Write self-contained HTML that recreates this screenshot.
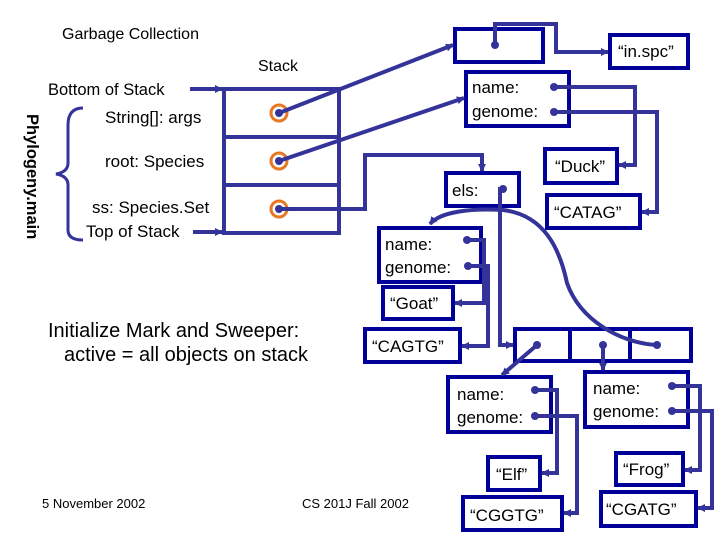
<!DOCTYPE html>
<html><head><meta charset="utf-8"><style>
html,body{margin:0;padding:0;background:#fff;}
svg{display:block;font-family:"Liberation Sans",sans-serif;}
</style></head><body>
<svg width="720" height="540" viewBox="0 0 720 540" xmlns="http://www.w3.org/2000/svg">
<defs>
<marker id="a" markerWidth="8" markerHeight="8" refX="7" refY="4" orient="auto" markerUnits="userSpaceOnUse">
<path d="M0,0 L8,4 L0,8 z" fill="#333399"/></marker>
</defs>
<g font-size="17" fill="#000">
<text x="62" y="39" font-size="16">Garbage Collection</text>
<text x="258" y="71" font-size="16">Stack</text>
<text x="48" y="95" font-size="16.5">Bottom of Stack</text>
<text x="105" y="123">String[]: args</text>
<text x="105" y="167">root: Species</text>
<text x="92" y="213">ss: Species.Set</text>
<text x="86" y="237">Top of Stack</text>
<text x="48" y="337" font-size="20">Initialize Mark and Sweeper:</text>
<text x="64" y="361" font-size="20">active = all objects on stack</text>
<text x="42" y="508" font-size="13">5 November 2002</text>
<text x="302" y="508" font-size="13">CS 201J Fall 2002</text>
<text transform="translate(27,114) rotate(90)" font-weight="bold" font-size="16.5">Phylogeny.main</text>
</g>
<path d="M83,108 Q68,108 68,125 L68,163 Q68,172 56,174 Q68,176 68,185 L68,230 Q68,240 83,240" fill="none" stroke="#333399" stroke-width="3"/>
<g stroke="#333399" stroke-width="4" fill="none">
<line x1="190" y1="89" x2="222" y2="89" marker-end="url(#a)"/>
<line x1="193" y1="232" x2="222" y2="232" marker-end="url(#a)"/>
<rect x="224" y="89" width="115" height="144"/>
<line x1="224" y1="137" x2="339" y2="137"/>
<line x1="224" y1="185" x2="339" y2="185"/>
</g>
<g stroke="#e87722" stroke-width="3" fill="none">
<circle cx="279" cy="113" r="8"/><circle cx="279" cy="161" r="8"/><circle cx="279" cy="209" r="8"/>
</g>
<g stroke="#000099" stroke-width="4" fill="#fff">
<rect x="455" y="29" width="88" height="33"/>
<rect x="610" y="35" width="78" height="33"/>
<rect x="466" y="72" width="103" height="54"/>
<rect x="545" y="149" width="72" height="34"/>
<rect x="547" y="195" width="93" height="33"/>
<rect x="446" y="173" width="73" height="33"/>
<rect x="379" y="228" width="102" height="54"/>
<rect x="383" y="287" width="70" height="32"/>
<rect x="365" y="329" width="95" height="33"/>
<rect x="515" y="329" width="176" height="32"/>
<line x1="570" y1="329" x2="570" y2="361"/>
<line x1="630" y1="329" x2="630" y2="361"/>
<rect x="448" y="377" width="103" height="55"/>
<rect x="585" y="372" width="103" height="55"/>
<rect x="488" y="457" width="52" height="33"/>
<rect x="463" y="497" width="99" height="33"/>
<rect x="616" y="453" width="67" height="32"/>
<rect x="601" y="492" width="95" height="34"/>
</g>
<g stroke="#333399" stroke-width="4" fill="none">
<line x1="279" y1="113" x2="453" y2="45" marker-end="url(#a)"/>
<line x1="279" y1="161" x2="464" y2="98" marker-end="url(#a)"/>
<polyline points="279,209 365,209 365,155 482,155 482,171" marker-end="url(#a)"/>
<polyline points="495,45 495,24 556,24 556,52 608,52" marker-end="url(#a)"/>
<polyline points="554,87 635,87 635,165 619,165" marker-end="url(#a)"/>
<polyline points="554,112 657,112 657,212 642,212" marker-end="url(#a)"/>
<polyline points="503,189 500,189 500,345 513,345" marker-end="url(#a)"/>
<path d="M657,345 C620,343 580,320 567,283 C560,250 545,215 503,210 C470,208 440,212 430,224" marker-end="url(#a)"/>
<polyline points="467,240 484,240 484,303 455,303" marker-end="url(#a)"/>
<polyline points="468,266 488,266 488,346 462,346" marker-end="url(#a)"/>
<line x1="537" y1="345" x2="502" y2="375" marker-end="url(#a)"/>
<line x1="603" y1="345" x2="603" y2="370" marker-end="url(#a)"/>
<polyline points="535,390 557,390 557,473 542,473" marker-end="url(#a)"/>
<polyline points="535,416 577,416 577,513 564,513" marker-end="url(#a)"/>
<polyline points="672,386 700,386 700,470 685,470" marker-end="url(#a)"/>
<polyline points="672,411 712,411 712,508 698,508" marker-end="url(#a)"/>
</g>
<g fill="#333399">
<circle cx="279" cy="113" r="4"/><circle cx="279" cy="161" r="4"/><circle cx="279" cy="209" r="4"/>
<circle cx="495" cy="45" r="4"/><circle cx="554" cy="87" r="4"/><circle cx="554" cy="112" r="4"/>
<circle cx="503" cy="189" r="4"/><circle cx="467" cy="240" r="4"/><circle cx="468" cy="266" r="4"/>
<circle cx="537" cy="345" r="4"/><circle cx="603" cy="345" r="4"/><circle cx="657" cy="345" r="4"/>
<circle cx="535" cy="390" r="4"/><circle cx="535" cy="416" r="4"/>
<circle cx="672" cy="386" r="4"/><circle cx="672" cy="411" r="4"/>
</g>
<g font-size="17" fill="#000">
<text x="618" y="57">“in.spc”</text>
<text x="472" y="93">name:</text><text x="472" y="117">genome:</text>
<text x="555" y="172">“Duck”</text>
<text x="554" y="218">“CATAG”</text>
<text x="452" y="196">els:</text>
<text x="385" y="250">name:</text><text x="385" y="273">genome:</text>
<text x="390" y="309">“Goat”</text>
<text x="372" y="352">“CAGTG”</text>
<text x="457" y="400">name:</text><text x="457" y="423">genome:</text>
<text x="593" y="394">name:</text><text x="593" y="417">genome:</text>
<text x="496" y="480">“Elf”</text>
<text x="470" y="521">“CGGTG”</text>
<text x="623" y="475">“Frog”</text>
<text x="606" y="515">“CGATG”</text>
</g>
</svg>
</body></html>
